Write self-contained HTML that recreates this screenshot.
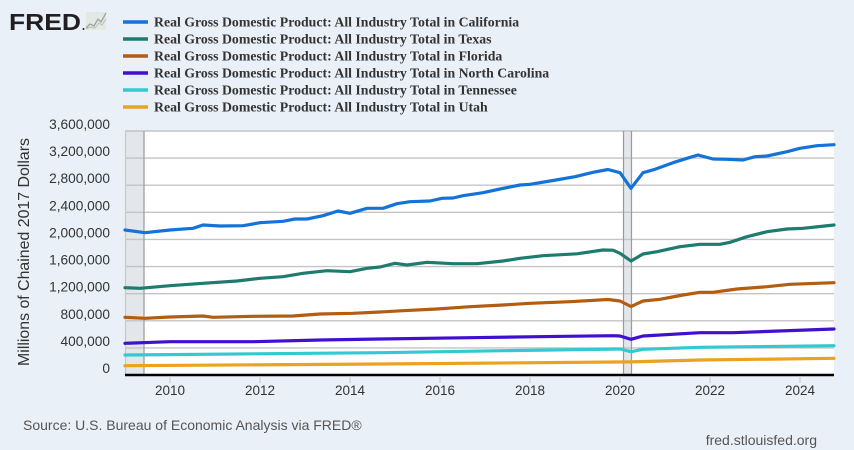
<!DOCTYPE html>
<html><head><meta charset="utf-8"><style>
html,body{margin:0;padding:0;background:#eaf0f8;}
svg{display:block;}
</style></head><body>
<svg width="854" height="450" viewBox="0 0 854 450" xmlns="http://www.w3.org/2000/svg">
<rect x="0" y="0" width="854" height="450" fill="#eaf0f8"/>
<!-- logo -->
<text x="9" y="30" font-family="Liberation Sans, Arial, sans-serif" font-weight="bold" font-size="23.5" fill="#231f20" textLength="72" lengthAdjust="spacingAndGlyphs">FRED</text>
<circle cx="83.5" cy="29" r="1" fill="#231f20"/>
<g>
<rect x="86" y="12" width="20" height="18" fill="#e2e8e4"/>
<polyline points="86,28 90,24 94,26 98,19 101,22 106,13" fill="none" stroke="#9aa79f" stroke-width="1.3"/>
<polyline points="86,29 90,27 95,28 99,23 102,25 106,19" fill="none" stroke="#b8c2bb" stroke-width="1"/>
</g>
<!-- legend -->
<g stroke-width="3.4">
<line x1="123" y1="22" x2="148" y2="22" stroke="#1473d9"/>
<line x1="123" y1="39" x2="148" y2="39" stroke="#1e7b6e"/>
<line x1="123" y1="56" x2="148" y2="56" stroke="#b25d10"/>
<line x1="123" y1="73" x2="148" y2="73" stroke="#4010d0"/>
<line x1="123" y1="90" x2="148" y2="90" stroke="#33c9d2"/>
<line x1="123" y1="107" x2="148" y2="107" stroke="#eba21f"/>
</g>
<g font-family="Liberation Serif, 'Times New Roman', serif" font-weight="bold" font-size="13.8" fill="#333">
<text x="154" y="26.7">Real Gross Domestic Product: All Industry Total in California</text>
<text x="154" y="43.7">Real Gross Domestic Product: All Industry Total in Texas</text>
<text x="154" y="60.7">Real Gross Domestic Product: All Industry Total in Florida</text>
<text x="154" y="77.7">Real Gross Domestic Product: All Industry Total in North Carolina</text>
<text x="154" y="94.7">Real Gross Domestic Product: All Industry Total in Tennessee</text>
<text x="154" y="111.7">Real Gross Domestic Product: All Industry Total in Utah</text>
</g>
<!-- plot -->
<rect x="125" y="131" width="709" height="244" fill="#ffffff"/>
<rect x="125" y="131" width="19" height="244" fill="#e3e6ea"/>
<rect x="623.5" y="131" width="8" height="244" fill="#e3e6ea"/>
<g stroke="#c4c4c4" stroke-width="1.4">
<line x1="125" y1="131" x2="834" y2="131"/>
<line x1="125" y1="158.1" x2="834" y2="158.1"/>
<line x1="125" y1="185.2" x2="834" y2="185.2"/>
<line x1="125" y1="212.3" x2="834" y2="212.3"/>
<line x1="125" y1="239.4" x2="834" y2="239.4"/>
<line x1="125" y1="266.6" x2="834" y2="266.6"/>
<line x1="125" y1="293.7" x2="834" y2="293.7"/>
<line x1="125" y1="320.8" x2="834" y2="320.8"/>
<line x1="125" y1="347.9" x2="834" y2="347.9"/>
</g>
<g stroke="#9a9a9a" stroke-width="1.2">
<line x1="144" y1="131" x2="144" y2="375"/>
<line x1="623.5" y1="131" x2="623.5" y2="375"/>
<line x1="631.5" y1="131" x2="631.5" y2="375"/>
<line x1="125.5" y1="131" x2="125.5" y2="375" stroke="#c8c8c8"/>
</g>
<g fill="none" stroke-width="3.2" stroke-linejoin="round" stroke-linecap="round">
<polyline stroke="#eba21f" points="125,365.7 380,364 630,361.9 700,360 834,358.3"/>
<polyline stroke="#33c9d2" points="125,355 380,352.7 503,350.7 620,349 631,351.7 643,349.3 700,347.3 834,345.7"/>
<polyline stroke="#4010d0" points="125,343.3 170,341.7 253,341.7 320,340 380,339 470,337.7 537,336.7 613,335.7 620,336 631,339.3 643,336 700,332.7 733,332.7 834,329"/>
<polyline stroke="#b25d10" points="125,317.3 145,318.3 170,317 203,316 213,317.3 253,316.3 293,316 320,314 353,313.3 380,312 403,310.7 437,309 470,306.7 503,305 530,303.3 570,301.7 608,299.5 620,301 631,306.5 643,301 660,299.3 683,295 700,292.3 713,292.3 737,289 767,286.7 790,284.3 834,282.7"/>
<polyline stroke="#1e7b6e" points="125,287.7 140,288.3 170,285.7 203,283.3 237,281 260,278.3 283,276.7 303,273.3 327,270.7 350,271.7 367,268.3 380,267 395,263.3 407,265 427,262.3 453,263.7 477,263.7 503,261 520,258.3 543,255.7 577,253.8 603,250 613,250.2 620,253.3 631,261 643,254 657,251.7 680,246.7 700,244.3 720,244.3 730,242.3 747,236.7 767,231.7 787,229 803,228.3 834,225"/>
<polyline stroke="#1473d9" points="125,230 145,232.7 170,230 193,228.3 203,225 220,226 243,225.7 260,222.7 283,221.3 295,219 307,219 323,215.7 338,211 350,213.3 367,208.3 383,208.3 397,203.7 410,201.7 430,201 442,198.3 453,198 463,195.7 483,192.7 500,189 520,185 530,184.3 553,180.5 575,176.7 593,172.3 608,169.5 620,172.7 631,188.3 643,172.7 655,169.3 673,162.7 687,158.3 698,155 713,159 727,159.3 743,160 755,156.7 767,156 787,151.7 800,148.3 817,145.7 834,144.7"/>
</g>
<line x1="125" y1="375" x2="834" y2="375" stroke="#000" stroke-width="2.5"/>
<g stroke="#c4c4c4" stroke-width="1">
<line x1="170" y1="376" x2="170" y2="383"/>
<line x1="260" y1="376" x2="260" y2="383"/>
<line x1="350" y1="376" x2="350" y2="383"/>
<line x1="440" y1="376" x2="440" y2="383"/>
<line x1="530" y1="376" x2="530" y2="383"/>
<line x1="620" y1="376" x2="620" y2="383"/>
<line x1="710" y1="376" x2="710" y2="383"/>
<line x1="800" y1="376" x2="800" y2="383"/>
</g>
<!-- y labels -->
<g font-family="Liberation Sans, Arial, sans-serif" font-size="13.7" fill="#333" text-anchor="end">
<text x="110" y="129">3,600,000</text>
<text x="110" y="156.1">3,200,000</text>
<text x="110" y="183.2">2,800,000</text>
<text x="110" y="210.3">2,400,000</text>
<text x="110" y="237.4">2,000,000</text>
<text x="110" y="264.6">1,600,000</text>
<text x="110" y="291.7">1,200,000</text>
<text x="110" y="318.8">800,000</text>
<text x="110" y="345.9">400,000</text>
<text x="110" y="373">0</text>
</g>
<!-- x labels -->
<g font-family="Liberation Sans, Arial, sans-serif" font-size="13.5" fill="#333" text-anchor="middle">
<text x="170" y="395">2010</text>
<text x="260" y="395">2012</text>
<text x="350" y="395">2014</text>
<text x="440" y="395">2016</text>
<text x="530" y="395">2018</text>
<text x="620" y="395">2020</text>
<text x="710" y="395">2022</text>
<text x="800" y="395">2024</text>
</g>
<text transform="translate(29,252) rotate(-90)" text-anchor="middle" font-family="Liberation Sans, Arial, sans-serif" font-size="15.9" fill="#333">Millions of Chained 2017 Dollars</text>
<text x="23" y="430" font-family="Liberation Sans, Arial, sans-serif" font-size="14" fill="#555">Source: U.S. Bureau of Economic Analysis via FRED®</text>
<text x="817" y="445" text-anchor="end" font-family="Liberation Sans, Arial, sans-serif" font-size="14" fill="#555">fred.stlouisfed.org</text>
</svg>
</body></html>
